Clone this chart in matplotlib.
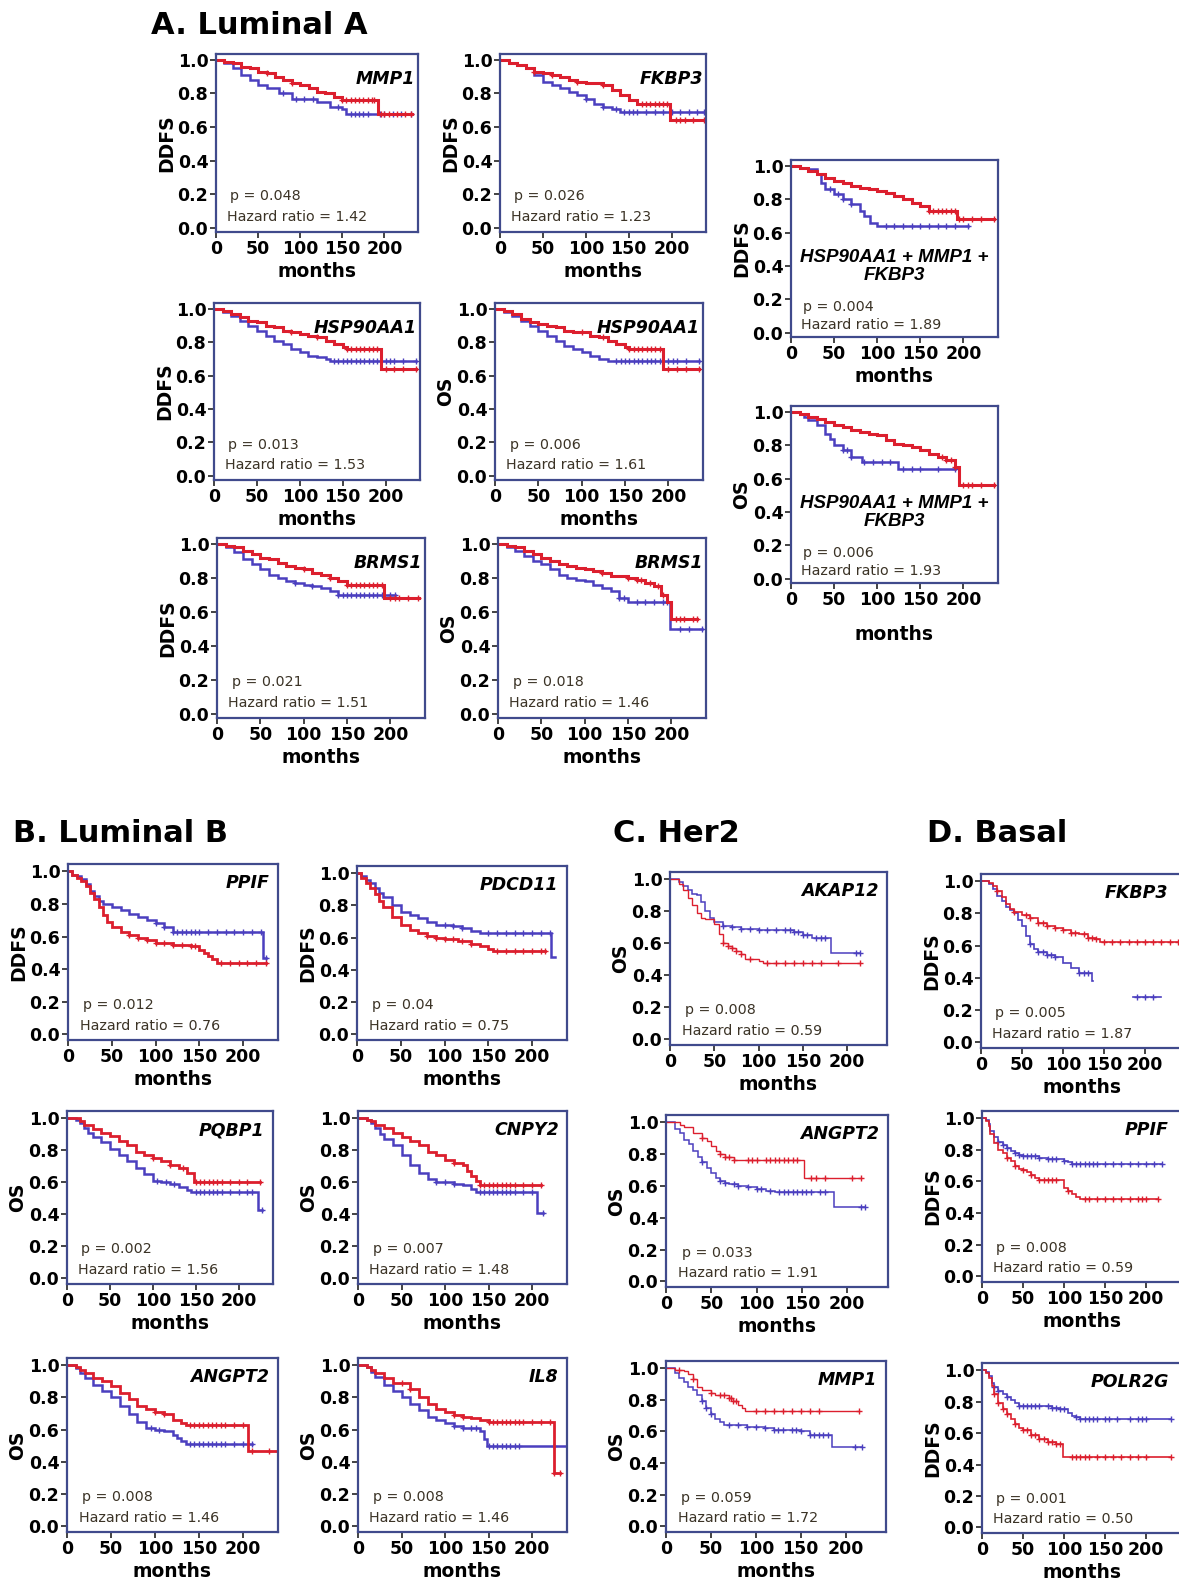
import matplotlib
matplotlib.use("Agg")
import matplotlib.pyplot as plt
import numpy as np

plt.rcParams['font.family'] = ['DejaVu Sans']
plt.rcParams['font.weight'] = 'bold'
plt.rcParams['axes.labelweight'] = 'bold'

RED = '#dc1f2e'
BLUE = '#4b3fbf'
FRAME = '#404a8c'
NOTE = '#3b3326'
nan = np.nan

# ---------------- A. Luminal A ----------------
la_mmp1_red_t = [0, 10, 20, 30, 40, 50, 60, 70, 80, 90, 100, 110, 120, 130, 140, 150, 192, 233]
la_mmp1_red_s = [1.0, 0.99, 0.98, 0.96, 0.95, 0.93, 0.92, 0.90, 0.88, 0.86, 0.85, 0.83, 0.81, 0.80, 0.78, 0.76, 0.68, 0.68]
la_mmp1_red_c = [60, 90, 150, 155, 160, 165, 170, 175, 180, 185, 188, 196, 200, 205, 215, 225, 232]
la_mmp1_blue_t = [0, 10, 20, 30, 40, 50, 60, 75, 90, 110, 120, 135, 150, 155, 232]
la_mmp1_blue_s = [1.0, 0.98, 0.95, 0.91, 0.88, 0.85, 0.83, 0.80, 0.77, 0.77, 0.75, 0.72, 0.71, 0.68, 0.68]
la_mmp1_blue_c = [80, 95, 105, 115, 145, 160, 165, 170, 175, 180, 195, 200, 210, 220, 232]

la_fkbp3_red_t = [0, 10, 20, 30, 40, 50, 60, 70, 80, 90, 100, 110, 120, 130, 140, 150, 160, 198, 240]
la_fkbp3_red_s = [1.0, 0.98, 0.97, 0.95, 0.93, 0.92, 0.91, 0.90, 0.88, 0.87, 0.86, 0.86, 0.85, 0.82, 0.79, 0.76, 0.74, 0.64, 0.64]
la_fkbp3_red_c = [40, 60, 90, 120, 165, 170, 175, 180, 185, 190, 195, 205, 210, 215, 225, 238]
la_fkbp3_blue_t = [0, 10, 20, 30, 40, 50, 60, 70, 80, 90, 100, 110, 120, 130, 140, 240]
la_fkbp3_blue_s = [1.0, 0.98, 0.97, 0.95, 0.91, 0.87, 0.85, 0.83, 0.81, 0.79, 0.77, 0.74, 0.72, 0.71, 0.69, 0.69]
la_fkbp3_blue_c = [100, 120, 135, 145, 150, 155, 160, 170, 180, 190, 200, 210, 220, 230, 238]

la_hspd_red_t = [0, 10, 20, 30, 40, 50, 60, 70, 80, 90, 100, 110, 120, 130, 140, 150, 155, 194, 235]
la_hspd_red_s = [1.0, 0.99, 0.97, 0.95, 0.93, 0.92, 0.90, 0.89, 0.87, 0.86, 0.85, 0.84, 0.83, 0.81, 0.79, 0.77, 0.76, 0.64, 0.64]
la_hspd_red_c = [90, 120, 155, 160, 165, 170, 175, 180, 185, 190, 200, 210, 220, 235]
la_hspd_blue_t = [0, 10, 20, 30, 40, 50, 60, 70, 80, 90, 100, 110, 120, 130, 135, 235]
la_hspd_blue_s = [1.0, 0.98, 0.96, 0.93, 0.90, 0.87, 0.84, 0.81, 0.79, 0.76, 0.74, 0.72, 0.71, 0.70, 0.69, 0.69]
la_hspd_blue_c = [140, 145, 150, 155, 160, 165, 170, 175, 180, 185, 190, 200, 205, 210, 220, 235]

la_hspo_red_t = [0, 10, 20, 30, 40, 50, 60, 70, 80, 90, 100, 110, 120, 130, 140, 150, 155, 194, 235]
la_hspo_red_s = [1.0, 0.99, 0.97, 0.94, 0.92, 0.91, 0.90, 0.89, 0.87, 0.86, 0.86, 0.84, 0.83, 0.81, 0.79, 0.77, 0.76, 0.64, 0.64]
la_hspo_red_c = [100, 125, 155, 160, 165, 170, 175, 180, 185, 190, 200, 210, 220, 235]
la_hspo_blue_t = [0, 10, 20, 30, 40, 50, 60, 70, 80, 90, 100, 110, 120, 130, 135, 235]
la_hspo_blue_s = [1.0, 0.98, 0.96, 0.93, 0.90, 0.87, 0.84, 0.81, 0.78, 0.76, 0.74, 0.72, 0.70, 0.69, 0.69, 0.69]
la_hspo_blue_c = [140, 145, 150, 155, 160, 165, 170, 175, 180, 185, 190, 200, 205, 210, 220, 235]

la_brmsd_red_t = [0, 10, 20, 30, 40, 50, 60, 70, 80, 90, 100, 110, 120, 130, 140, 150, 193, 233]
la_brmsd_red_s = [1.0, 0.99, 0.98, 0.96, 0.94, 0.92, 0.91, 0.89, 0.87, 0.86, 0.85, 0.83, 0.82, 0.80, 0.78, 0.76, 0.68, 0.68]
la_brmsd_red_c = [100, 130, 150, 155, 160, 165, 170, 175, 180, 185, 190, 200, 205, 210, 220, 232]
la_brmsd_blue_t = [0, 10, 20, 30, 40, 50, 60, 70, 80, 90, 100, 110, 120, 130, 140, 205]
la_brmsd_blue_s = [1.0, 0.98, 0.95, 0.91, 0.88, 0.85, 0.82, 0.80, 0.78, 0.77, 0.76, 0.75, 0.74, 0.72, 0.70, 0.70]
la_brmsd_blue_c = [90, 110, 140, 145, 150, 155, 160, 165, 170, 175, 180, 185, 190, 200, 205]

la_brmso_red_t = [0, 10, 20, 30, 40, 50, 60, 70, 80, 90, 100, 110, 120, 130, 140, 150, 160, 170, 180, 188, 195, 200, 230]
la_brmso_red_s = [1.0, 0.99, 0.98, 0.96, 0.94, 0.92, 0.90, 0.88, 0.87, 0.86, 0.85, 0.84, 0.83, 0.81, 0.81, 0.80, 0.79, 0.77, 0.75, 0.70, 0.66, 0.56, 0.56]
la_brmso_red_c = [120, 150, 160, 165, 175, 185, 190, 205, 210, 215, 225, 230]
la_brmso_blue_t = [0, 10, 20, 30, 40, 50, 60, 70, 80, 90, 100, 110, 120, 130, 140, 150, 198, 235]
la_brmso_blue_s = [1.0, 0.98, 0.96, 0.93, 0.90, 0.88, 0.85, 0.82, 0.80, 0.79, 0.78, 0.76, 0.74, 0.72, 0.68, 0.66, 0.50, 0.50]
la_brmso_blue_c = [140, 145, 160, 170, 180, 190, 195, 210, 220, 235]

la_combd_red_t = [0, 10, 20, 30, 40, 50, 60, 70, 80, 90, 100, 110, 120, 130, 140, 150, 160, 193, 235]
la_combd_red_s = [1.0, 0.99, 0.97, 0.95, 0.93, 0.91, 0.90, 0.88, 0.87, 0.86, 0.85, 0.84, 0.82, 0.80, 0.78, 0.76, 0.73, 0.68, 0.68]
la_combd_red_c = [160, 165, 170, 175, 180, 185, 190, 195, 200, 210, 220, 235]
la_combd_blue_t = [0, 10, 20, 30, 35, 40, 50, 60, 70, 80, 85, 92, 100, 205]
la_combd_blue_s = [1.0, 0.99, 0.98, 0.95, 0.90, 0.86, 0.83, 0.80, 0.77, 0.73, 0.70, 0.66, 0.64, 0.64]
la_combd_blue_c = [45, 55, 60, 70, 110, 120, 130, 140, 150, 160, 170, 180, 190, 205]

la_combo_red_t = [0, 10, 20, 30, 40, 50, 60, 70, 80, 90, 100, 110, 120, 130, 140, 150, 160, 170, 180, 190, 195, 235]
la_combo_red_s = [1.0, 0.99, 0.97, 0.96, 0.94, 0.92, 0.91, 0.89, 0.88, 0.87, 0.86, 0.83, 0.81, 0.80, 0.79, 0.77, 0.75, 0.73, 0.71, 0.67, 0.56, 0.56]
la_combo_red_c = [175, 180, 185, 190, 200, 205, 210, 220, 235]
la_combo_blue_t = [0, 10, 15, 20, 30, 40, 45, 50, 60, 70, 82, 124, 190]
la_combo_blue_s = [1.0, 0.99, 0.97, 0.95, 0.92, 0.87, 0.84, 0.80, 0.77, 0.73, 0.70, 0.66, 0.66]
la_combo_blue_c = [60, 65, 70, 85, 95, 105, 115, 130, 140, 150, 170, 190]

# ---------------- B. Luminal B ----------------
lb_ppif_red_t = [0, 5, 10, 15, 20, 25, 30, 35, 40, 45, 50, 60, 70, 80, 90, 100, 120, 140, 150, 155, 160, 165, 170, 226]
lb_ppif_red_s = [1.0, 0.98, 0.96, 0.94, 0.91, 0.87, 0.83, 0.78, 0.73, 0.69, 0.66, 0.63, 0.61, 0.59, 0.58, 0.56, 0.55, 0.54, 0.52, 0.50, 0.48, 0.46, 0.44, 0.44]
lb_ppif_red_c = [70, 80, 90, 100, 110, 120, 130, 140, 145, 175, 185, 195, 205, 215, 226]
lb_ppif_blue_t = [0, 5, 10, 15, 20, 25, 30, 35, 40, 50, 60, 70, 80, 90, 100, 110, 120, 223, 226]
lb_ppif_blue_s = [1.0, 0.98, 0.97, 0.95, 0.92, 0.88, 0.85, 0.82, 0.80, 0.78, 0.76, 0.74, 0.72, 0.70, 0.68, 0.66, 0.63, 0.47, 0.47]
lb_ppif_blue_c = [100, 110, 120, 125, 130, 135, 140, 145, 150, 160, 170, 180, 190, 200, 210, 220, 226]

lb_pdcd_red_t = [0, 5, 10, 15, 20, 25, 30, 40, 50, 60, 70, 80, 90, 100, 115, 130, 140, 150, 155, 215]
lb_pdcd_red_s = [1.0, 0.97, 0.94, 0.91, 0.87, 0.83, 0.79, 0.73, 0.68, 0.65, 0.63, 0.61, 0.60, 0.59, 0.58, 0.56, 0.55, 0.53, 0.52, 0.52]
lb_pdcd_red_c = [80, 90, 100, 110, 120, 130, 160, 170, 180, 190, 200, 210, 215]
lb_pdcd_blue_t = [0, 5, 10, 15, 20, 25, 30, 40, 50, 60, 70, 80, 90, 100, 110, 120, 130, 140, 222, 226]
lb_pdcd_blue_s = [1.0, 0.98, 0.96, 0.94, 0.91, 0.88, 0.85, 0.80, 0.76, 0.74, 0.72, 0.70, 0.68, 0.68, 0.67, 0.66, 0.64, 0.63, 0.48, 0.48]
lb_pdcd_blue_c = [100, 110, 120, 150, 160, 170, 180, 190, 200, 210, 220]

lb_pqbp_red_t = [0, 10, 15, 20, 30, 40, 50, 60, 70, 80, 90, 100, 110, 120, 130, 140, 148, 225]
lb_pqbp_red_s = [1.0, 1.0, 0.98, 0.96, 0.93, 0.91, 0.89, 0.86, 0.83, 0.79, 0.77, 0.75, 0.73, 0.71, 0.69, 0.66, 0.60, 0.60]
lb_pqbp_red_c = [100, 120, 135, 150, 155, 160, 165, 170, 175, 180, 190, 200, 210, 225]
lb_pqbp_blue_t = [0, 10, 15, 20, 25, 30, 40, 50, 60, 70, 80, 90, 100, 110, 120, 130, 140, 145, 223, 227]
lb_pqbp_blue_s = [1.0, 0.99, 0.97, 0.94, 0.91, 0.88, 0.85, 0.81, 0.77, 0.73, 0.69, 0.65, 0.61, 0.60, 0.59, 0.57, 0.55, 0.54, 0.43, 0.43]
lb_pqbp_blue_c = [105, 115, 125, 150, 155, 160, 165, 170, 175, 180, 190, 200, 210, 215, 227]

lb_cnpy_red_t = [0, 10, 15, 20, 30, 40, 50, 60, 70, 80, 90, 100, 110, 120, 125, 130, 135, 140, 210]
lb_cnpy_red_s = [1.0, 0.99, 0.98, 0.96, 0.94, 0.91, 0.88, 0.86, 0.83, 0.79, 0.77, 0.74, 0.72, 0.71, 0.67, 0.64, 0.61, 0.58, 0.58]
lb_cnpy_red_c = [110, 140, 145, 150, 155, 160, 165, 170, 175, 180, 190, 200, 210]
lb_cnpy_blue_t = [0, 10, 15, 20, 25, 30, 40, 50, 60, 70, 80, 90, 100, 110, 120, 130, 135, 206, 212]
lb_cnpy_blue_s = [1.0, 0.99, 0.97, 0.94, 0.90, 0.87, 0.83, 0.77, 0.71, 0.66, 0.62, 0.60, 0.60, 0.59, 0.58, 0.56, 0.54, 0.41, 0.41]
lb_cnpy_blue_c = [90, 100, 110, 140, 145, 150, 155, 160, 165, 170, 175, 180, 190, 200, 212]

lb_angpt_red_t = [0, 10, 15, 20, 30, 40, 50, 60, 70, 80, 90, 100, 110, 120, 130, 135, 206, 240]
lb_angpt_red_s = [1.0, 0.99, 0.97, 0.95, 0.92, 0.90, 0.87, 0.83, 0.79, 0.75, 0.73, 0.71, 0.70, 0.66, 0.64, 0.63, 0.47, 0.47]
lb_angpt_red_c = [100, 110, 140, 145, 150, 155, 160, 165, 170, 175, 180, 190, 200, 210, 230, 240]
lb_angpt_blue_t = [0, 10, 15, 20, 30, 40, 50, 60, 70, 80, 90, 100, 110, 120, 125, 130, 135, 210]
lb_angpt_blue_s = [1.0, 0.98, 0.95, 0.92, 0.88, 0.84, 0.80, 0.75, 0.70, 0.65, 0.61, 0.60, 0.59, 0.57, 0.55, 0.53, 0.51, 0.51]
lb_angpt_blue_c = [95, 105, 140, 145, 150, 155, 160, 165, 170, 175, 180, 190, 200, 210]

lb_il8_red_t = [0, 10, 15, 20, 30, 40, 50, 60, 70, 80, 90, 100, 110, 120, 130, 140, 150, 225, 232]
lb_il8_red_s = [1.0, 0.99, 0.97, 0.95, 0.92, 0.89, 0.89, 0.85, 0.80, 0.76, 0.73, 0.71, 0.69, 0.68, 0.67, 0.66, 0.65, 0.33, 0.33]
lb_il8_red_c = [50, 60, 110, 120, 150, 155, 160, 165, 170, 175, 180, 185, 190, 200, 210, 220, 225, 232]
lb_il8_blue_t = [0, 10, 15, 20, 30, 40, 50, 60, 70, 80, 90, 100, 110, 120, 130, 140, 145, 148, 240]
lb_il8_blue_s = [1.0, 0.99, 0.96, 0.93, 0.88, 0.84, 0.80, 0.76, 0.72, 0.68, 0.66, 0.64, 0.62, 0.61, 0.61, 0.59, 0.54, 0.50, 0.50]
lb_il8_blue_c = [110, 120, 130, 135, 150, 155, 160, 165, 170, 175, 180, 185, 225]

# ---------------- C. Her2 ----------------
her_akap_red_t = [0, 10, 15, 20, 25, 30, 35, 40, 50, 55, 60, 65, 70, 75, 80, 85, 100, 105, 215]
her_akap_red_s = [1.0, 0.97, 0.93, 0.88, 0.84, 0.79, 0.76, 0.75, 0.72, 0.66, 0.60, 0.58, 0.57, 0.55, 0.53, 0.50, 0.49, 0.48, 0.48]
her_akap_red_c = [60, 65, 70, 75, 80, 90, 110, 120, 130, 140, 150, 160, 170, 190, 215]
her_akap_blue_t = [0, 10, 15, 20, 25, 30, 35, 40, 45, 50, 60, 70, 80, 100, 120, 140, 150, 160, 182, 215]
her_akap_blue_s = [1.0, 0.98, 0.96, 0.93, 0.91, 0.90, 0.86, 0.80, 0.76, 0.73, 0.71, 0.70, 0.69, 0.68, 0.68, 0.67, 0.65, 0.63, 0.54, 0.54]
her_akap_blue_c = [60, 70, 80, 90, 100, 110, 120, 130, 135, 140, 145, 150, 155, 165, 170, 175, 210, 215]

her_angpt_red_t = [0, 10, 15, 20, 30, 40, 45, 50, 55, 60, 65, 75, 152, 215]
her_angpt_red_s = [1.0, 1.0, 0.98, 0.97, 0.93, 0.90, 0.88, 0.85, 0.82, 0.80, 0.78, 0.76, 0.65, 0.65]
her_angpt_red_c = [40, 60, 65, 70, 75, 90, 95, 100, 110, 115, 120, 125, 130, 135, 140, 145, 160, 165, 175, 205, 215]
her_angpt_blue_t = [0, 10, 15, 20, 25, 30, 35, 40, 45, 50, 55, 60, 65, 70, 80, 90, 100, 110, 120, 185, 220]
her_angpt_blue_s = [1.0, 0.96, 0.93, 0.89, 0.86, 0.82, 0.78, 0.75, 0.71, 0.68, 0.65, 0.63, 0.62, 0.61, 0.60, 0.59, 0.58, 0.57, 0.56, 0.47, 0.47]
her_angpt_blue_c = [40, 60, 65, 75, 80, 90, 100, 105, 115, 125, 130, 135, 140, 145, 150, 155, 160, 170, 175, 215, 220]

her_mmp1_red_t = [0, 10, 20, 25, 30, 35, 40, 50, 55, 60, 70, 75, 80, 85, 88, 215]
her_mmp1_red_s = [1.0, 0.99, 0.98, 0.96, 0.93, 0.88, 0.86, 0.84, 0.83, 0.83, 0.81, 0.79, 0.77, 0.75, 0.73, 0.73]
her_mmp1_red_c = [15, 30, 50, 60, 65, 70, 72, 75, 78, 100, 110, 120, 130, 140, 150, 160, 170, 215]
her_mmp1_blue_t = [0, 10, 15, 20, 25, 30, 35, 40, 45, 50, 55, 60, 65, 90, 110, 120, 150, 160, 185, 218]
her_mmp1_blue_s = [1.0, 0.97, 0.94, 0.91, 0.88, 0.86, 0.83, 0.79, 0.75, 0.71, 0.68, 0.66, 0.64, 0.63, 0.62, 0.61, 0.60, 0.58, 0.50, 0.50]
her_mmp1_blue_c = [40, 45, 50, 70, 80, 90, 100, 110, 120, 125, 130, 140, 145, 150, 160, 165, 170, 175, 180, 210, 218]

# ---------------- D. Basal ----------------
bas_fkbp3_red_t = [0, 10, 15, 20, 25, 30, 35, 40, 50, 60, 70, 80, 90, 100, 110, 120, 130, 140, 145, 240]
bas_fkbp3_red_s = [1.0, 0.99, 0.97, 0.94, 0.90, 0.86, 0.83, 0.81, 0.79, 0.77, 0.74, 0.72, 0.71, 0.70, 0.68, 0.67, 0.65, 0.64, 0.62, 0.62]
bas_fkbp3_red_c = [20, 40, 55, 60, 70, 75, 80, 90, 100, 110, 115, 125, 130, 135, 140, 150, 160, 170, 180, 190, 200, 210, 220, 230, 240]
bas_fkbp3_blue_t = [0, 10, 15, 20, 25, 30, 35, 40, 45, 50, 55, 60, 65, 70, 80, 90, 100, 110, 120, 135, 137, 185, 220]
bas_fkbp3_blue_s = [1.0, 0.98, 0.95, 0.91, 0.88, 0.84, 0.82, 0.80, 0.76, 0.72, 0.66, 0.61, 0.58, 0.56, 0.54, 0.53, 0.49, 0.46, 0.43, 0.38, nan, 0.28, 0.28]
bas_fkbp3_blue_c = [60, 70, 75, 80, 85, 90, 120, 125, 130, 190, 200, 210]

bas_ppif_red_t = [0, 5, 8, 10, 15, 20, 25, 30, 35, 40, 45, 50, 55, 60, 65, 70, 80, 98, 100, 105, 110, 115, 120, 215]
bas_ppif_red_s = [1.0, 0.98, 0.95, 0.90, 0.84, 0.80, 0.78, 0.75, 0.73, 0.70, 0.68, 0.67, 0.66, 0.64, 0.62, 0.61, 0.61, 0.61, 0.56, 0.54, 0.52, 0.50, 0.49, 0.49]
bas_ppif_red_c = [30, 40, 50, 60, 70, 75, 80, 85, 90, 105, 125, 130, 140, 150, 160, 170, 180, 190, 195, 200, 215]
bas_ppif_blue_t = [0, 5, 8, 10, 15, 20, 25, 30, 35, 40, 45, 50, 60, 70, 80, 90, 100, 105, 110, 220]
bas_ppif_blue_s = [1.0, 0.99, 0.96, 0.92, 0.88, 0.85, 0.83, 0.81, 0.79, 0.78, 0.77, 0.76, 0.76, 0.75, 0.74, 0.74, 0.73, 0.72, 0.71, 0.71]
bas_ppif_blue_c = [20, 25, 30, 40, 45, 50, 55, 60, 65, 70, 80, 85, 90, 100, 110, 115, 120, 125, 130, 135, 140, 150, 160, 170, 180, 190, 200, 210, 220]

bas_polr_red_t = [0, 5, 8, 12, 15, 20, 25, 30, 35, 40, 45, 50, 60, 70, 80, 90, 99, 230]
bas_polr_red_s = [1.0, 0.98, 0.95, 0.90, 0.85, 0.79, 0.75, 0.72, 0.69, 0.66, 0.63, 0.62, 0.59, 0.56, 0.54, 0.53, 0.45, 0.45]
bas_polr_red_c = [15, 20, 25, 30, 40, 50, 55, 60, 65, 70, 75, 80, 85, 90, 95, 110, 115, 120, 125, 130, 140, 150, 160, 170, 180, 190, 200, 230]
bas_polr_blue_t = [0, 5, 8, 12, 15, 20, 25, 30, 35, 40, 45, 50, 85, 95, 100, 105, 110, 115, 120, 230]
bas_polr_blue_s = [1.0, 0.99, 0.96, 0.92, 0.89, 0.87, 0.85, 0.83, 0.81, 0.79, 0.77, 0.77, 0.76, 0.75, 0.75, 0.73, 0.71, 0.70, 0.69, 0.69]
bas_polr_blue_c = [15, 20, 30, 45, 50, 55, 60, 65, 70, 80, 85, 90, 95, 100, 115, 120, 125, 130, 135, 140, 150, 155, 165, 180, 190, 195, 200, 230]

section_titles = ['A. Luminal A', 'B. Luminal B', 'C. Her2', 'D. Basal']

W, H = 1179, 1583
fig = plt.figure(figsize=(W / 100, H / 100), dpi=100)


def step_value(t, s, x):
    i = np.searchsorted(t, x, side='right') - 1
    return np.asarray(s, dtype=float)[np.clip(i, 0, len(s) - 1)]


def km_panel(rect, red, blue, gene, ylab, p, hr, xmax=240, ylim=(-0.035, 1.045),
             lw=(2.2, 1.8), combo=False, gene_xy=(0.96, 0.89), mpad=3):
    L, T, R, B = rect
    ax = fig.add_axes([L / W, 1 - B / H, (R - L) / W, (B - T) / H])
    for (t, s, c), col, w in [(blue, BLUE, lw[1]), (red, RED, lw[0])]:
        ax.step(t, s, where='post', color=col, lw=w, solid_joinstyle='miter')
        ax.plot(c, step_value(t, s, c), '+', color=col, ms=4.5, mew=1.0)
    ax.set_xlim(0, xmax)
    ax.set_ylim(*ylim)
    ax.set_xticks([0, 50, 100, 150, 200])
    ax.set_yticks([0, 0.2, 0.4, 0.6, 0.8, 1.0])
    ax.set_yticklabels(['0.0', '0.2', '0.4', '0.6', '0.8', '1.0'])
    for sp in ax.spines.values():
        sp.set_color(FRAME)
        sp.set_linewidth(1.6)
    ax.tick_params(direction='out', length=4, width=1.2, color='#222222',
                   labelsize=12.5, pad=1.5)
    ax.set_xlabel('months', fontsize=13.5, labelpad=mpad)
    ax.set_ylabel(ylab, fontsize=13.5, labelpad=1)
    if combo:
        ax.text(0.5, 0.4, gene, transform=ax.transAxes, ha='center', va='center',
                style='italic', fontsize=13.5, linespacing=1.1,
                family=['Liberation Sans', 'DejaVu Sans'])
        ax.text(0.06, 0.17, 'p = ' + p, transform=ax.transAxes, va='center',
                fontsize=10.3, weight='normal', color=NOTE)
        ax.text(0.05, 0.065, 'Hazard ratio = ' + hr, transform=ax.transAxes,
                va='center', fontsize=10.3, weight='normal', color=NOTE)
    else:
        ax.text(gene_xy[0], gene_xy[1], gene, transform=ax.transAxes, ha='right',
                va='center', style='italic', fontsize=12.5)
        ax.text(0.07, 0.2, 'p = ' + p, transform=ax.transAxes, va='center',
                fontsize=10.3, weight='normal', color=NOTE)
        ax.text(0.055, 0.082, 'Hazard ratio = ' + hr, transform=ax.transAxes,
                va='center', fontsize=10.3, weight='normal', color=NOTE)
    return ax


ylA = (-0.025, 1.035)
gA = (0.985, 0.86)
combo_name = 'HSP90AA1 + MMP1 +\nFKBP3'

# Luminal A
km_panel((216, 54, 418, 232), (la_mmp1_red_t, la_mmp1_red_s, la_mmp1_red_c),
         (la_mmp1_blue_t, la_mmp1_blue_s, la_mmp1_blue_c), 'MMP1', 'DDFS', '0.048', '1.42',
         ylim=ylA, gene_xy=gA)
km_panel((500, 54, 706, 232), (la_fkbp3_red_t, la_fkbp3_red_s, la_fkbp3_red_c),
         (la_fkbp3_blue_t, la_fkbp3_blue_s, la_fkbp3_blue_c), 'FKBP3', 'DDFS', '0.026', '1.23',
         ylim=ylA, gene_xy=gA)
km_panel((214, 303, 420, 480), (la_hspd_red_t, la_hspd_red_s, la_hspd_red_c),
         (la_hspd_blue_t, la_hspd_blue_s, la_hspd_blue_c), 'HSP90AA1', 'DDFS', '0.013', '1.53',
         ylim=ylA, gene_xy=gA)
km_panel((495, 303, 703, 480), (la_hspo_red_t, la_hspo_red_s, la_hspo_red_c),
         (la_hspo_blue_t, la_hspo_blue_s, la_hspo_blue_c), 'HSP90AA1', 'OS', '0.006', '1.61',
         ylim=ylA, gene_xy=gA)
km_panel((217, 538, 425, 718), (la_brmsd_red_t, la_brmsd_red_s, la_brmsd_red_c),
         (la_brmsd_blue_t, la_brmsd_blue_s, la_brmsd_blue_c), 'BRMS1', 'DDFS', '0.021', '1.51',
         ylim=ylA, gene_xy=gA)
km_panel((498, 538, 706, 718), (la_brmso_red_t, la_brmso_red_s, la_brmso_red_c),
         (la_brmso_blue_t, la_brmso_blue_s, la_brmso_blue_c), 'BRMS1', 'OS', '0.018', '1.46',
         ylim=ylA, gene_xy=gA)
km_panel((791, 160, 998, 337), (la_combd_red_t, la_combd_red_s, la_combd_red_c),
         (la_combd_blue_t, la_combd_blue_s, la_combd_blue_c), combo_name, 'DDFS', '0.004', '1.89',
         ylim=ylA, combo=True)
km_panel((791, 406, 998, 583), (la_combo_red_t, la_combo_red_s, la_combo_red_c),
         (la_combo_blue_t, la_combo_blue_s, la_combo_blue_c), combo_name, 'OS', '0.006', '1.93',
         ylim=ylA, combo=True, mpad=12)

# Luminal B
km_panel((68, 864, 278, 1040), (lb_ppif_red_t, lb_ppif_red_s, lb_ppif_red_c),
         (lb_ppif_blue_t, lb_ppif_blue_s, lb_ppif_blue_c), 'PPIF', 'DDFS', '0.012', '0.76',
         lw=(2.0, 1.8))
km_panel((357, 866, 567, 1040), (lb_pdcd_red_t, lb_pdcd_red_s, lb_pdcd_red_c),
         (lb_pdcd_blue_t, lb_pdcd_blue_s, lb_pdcd_blue_c), 'PDCD11', 'DDFS', '0.04', '0.75',
         lw=(2.0, 1.8))
km_panel((67, 1111, 273, 1284), (lb_pqbp_red_t, lb_pqbp_red_s, lb_pqbp_red_c),
         (lb_pqbp_blue_t, lb_pqbp_blue_s, lb_pqbp_blue_c), 'PQBP1', 'OS', '0.002', '1.56',
         lw=(2.0, 1.8))
km_panel((358, 1111, 567, 1284), (lb_cnpy_red_t, lb_cnpy_red_s, lb_cnpy_red_c),
         (lb_cnpy_blue_t, lb_cnpy_blue_s, lb_cnpy_blue_c), 'CNPY2', 'OS', '0.007', '1.48',
         lw=(2.0, 1.8))
km_panel((67, 1358, 278, 1532), (lb_angpt_red_t, lb_angpt_red_s, lb_angpt_red_c),
         (lb_angpt_blue_t, lb_angpt_blue_s, lb_angpt_blue_c), 'ANGPT2', 'OS', '0.008', '1.46',
         lw=(2.0, 1.8))
km_panel((358, 1358, 567, 1532), (lb_il8_red_t, lb_il8_red_s, lb_il8_red_c),
         (lb_il8_blue_t, lb_il8_blue_s, lb_il8_blue_c), 'IL8', 'OS', '0.008', '1.46',
         lw=(2.0, 1.8))

# Her2
km_panel((670, 872, 887, 1045), (her_akap_red_t, her_akap_red_s, her_akap_red_c),
         (her_akap_blue_t, her_akap_blue_s, her_akap_blue_c), 'AKAP12', 'OS', '0.008', '0.59',
         xmax=245, lw=(1.0, 1.1))
km_panel((666, 1115, 888, 1287), (her_angpt_red_t, her_angpt_red_s, her_angpt_red_c),
         (her_angpt_blue_t, her_angpt_blue_s, her_angpt_blue_c), 'ANGPT2', 'OS', '0.033', '1.91',
         xmax=245, lw=(1.0, 1.1))
km_panel((666, 1361, 886, 1532), (her_mmp1_red_t, her_mmp1_red_s, her_mmp1_red_c),
         (her_mmp1_blue_t, her_mmp1_blue_s, her_mmp1_blue_c), 'MMP1', 'OS', '0.059', '1.72',
         xmax=245, lw=(1.0, 1.1))

# Basal
km_panel((981, 874, 1182, 1048), (bas_fkbp3_red_t, bas_fkbp3_red_s, bas_fkbp3_red_c),
         (bas_fkbp3_blue_t, bas_fkbp3_blue_s, bas_fkbp3_blue_c), 'FKBP3', 'DDFS', '0.005', '1.87',
         xmax=245, lw=(1.2, 1.2), gene_xy=(0.93, 0.89))
km_panel((982, 1111, 1183, 1282), (bas_ppif_red_t, bas_ppif_red_s, bas_ppif_red_c),
         (bas_ppif_blue_t, bas_ppif_blue_s, bas_ppif_blue_c), 'PPIF', 'DDFS', '0.008', '0.59',
         xmax=245, lw=(1.2, 1.2), gene_xy=(0.93, 0.89))
km_panel((982, 1363, 1183, 1533), (bas_polr_red_t, bas_polr_red_s, bas_polr_red_c),
         (bas_polr_blue_t, bas_polr_blue_s, bas_polr_blue_c), 'POLR2G', 'DDFS', '0.001', '0.50',
         xmax=245, lw=(1.2, 1.2), gene_xy=(0.93, 0.89))

# section headings
for txt, (x, y) in zip(section_titles, [(151, 26), (13, 833), (613, 833), (927, 833)]):
    fig.text(x / W, 1 - y / H, txt, fontsize=22, weight='bold', va='center', ha='left')

fig.savefig('out.png', dpi=100)
